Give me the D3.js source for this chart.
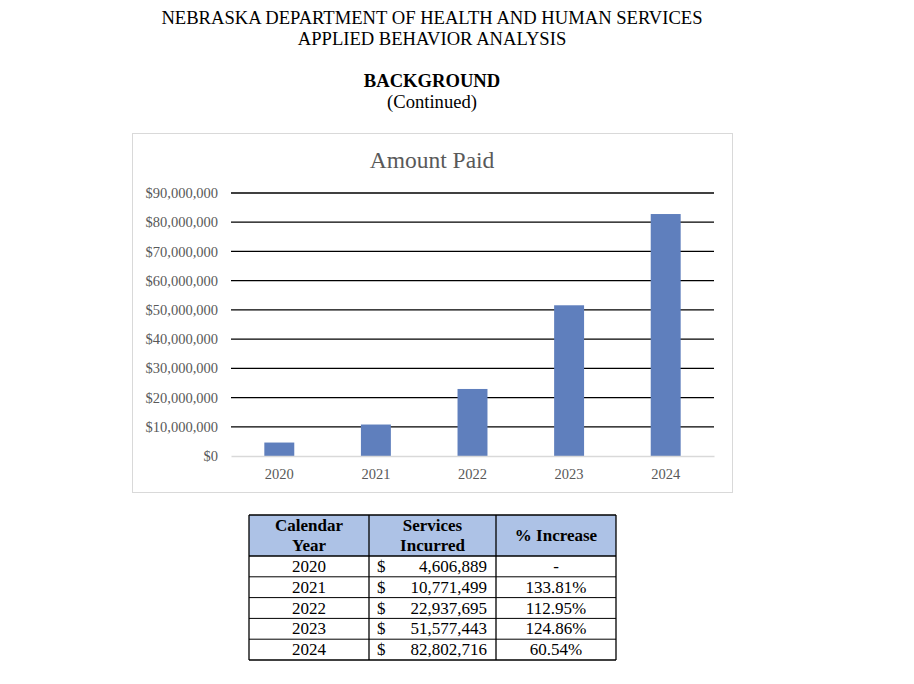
<!DOCTYPE html>
<html>
<head>
<meta charset="utf-8">
<script src="https://cdn.jsdelivr.net/npm/d3@7"></script>
<style>
  html, body { margin: 0; padding: 0; background: #fff; }
  svg { display: block; font-family: "Liberation Serif", "Times New Roman", serif; }
</style>
</head>
<body>
<div id="vis"></div>
<script>
// data
const YEARS = ["2020", "2021", "2022", "2023", "2024"];
const AMOUNTS = [4606889, 10771499, 22937695, 51577443, 82802716];
const PCT_INCREASE = ["-", "133.81%", "112.95%", "124.86%", "60.54%"];
const Y_TICKS = [0, 10000000, 20000000, 30000000, 40000000, 50000000, 60000000, 70000000, 80000000, 90000000];

const FRAME_WIDTH = 914;
const FRAME_HEIGHT = 684;

const SVG = d3.select("#vis")
  .append("svg")
    .attr("width", FRAME_WIDTH)
    .attr("height", FRAME_HEIGHT);

// page header
const HEADER = [
  {text: "NEBRASKA DEPARTMENT OF HEALTH AND HUMAN SERVICES", y: 24, bold: false},
  {text: "APPLIED BEHAVIOR ANALYSIS", y: 45, bold: false},
  {text: "BACKGROUND", y: 87, bold: true},
  {text: "(Continued)", y: 108, bold: false}
];
SVG.selectAll(".hdr")
  .data(HEADER)
  .enter()
  .append("text")
    .attr("x", 432)
    .attr("y", d => d.y)
    .attr("text-anchor", "middle")
    .attr("font-size", "18.6px")
    .attr("font-weight", d => d.bold ? "bold" : "normal")
    .attr("fill", "#000")
    .text(d => d.text);

// chart box
SVG.append("rect")
  .attr("x", 132.5).attr("y", 133.5)
  .attr("width", 600).attr("height", 359)
  .attr("fill", "#fff")
  .attr("stroke", "#d9d9d9");

SVG.append("text")
  .attr("x", 432).attr("y", 168)
  .attr("text-anchor", "middle")
  .attr("font-size", "23.5px")
  .attr("fill", "#595959")
  .text("Amount Paid");

const PLOT = {left: 231, right: 714, top: 193, bottom: 456};

const X_SCALE = d3.scaleBand()
  .domain(YEARS)
  .range([PLOT.left, PLOT.right])
  .paddingInner(0.69)
  .paddingOuter(0.345);

const Y_SCALE = d3.scaleLinear()
  .domain([0, 90000000])
  .range([PLOT.bottom, PLOT.top]);

// gridlines
SVG.selectAll(".grid")
  .data(Y_TICKS.slice(1))
  .enter()
  .append("line")
    .attr("x1", PLOT.left).attr("x2", PLOT.right)
    .attr("y1", d => Y_SCALE(d)).attr("y2", d => Y_SCALE(d))
    .attr("stroke", "#000")
    .attr("stroke-width", 1.3);

// bars
SVG.selectAll(".bar")
  .data(AMOUNTS)
  .enter()
  .append("rect")
    .attr("x", (d, i) => X_SCALE(YEARS[i]))
    .attr("y", d => Y_SCALE(d))
    .attr("width", X_SCALE.bandwidth())
    .attr("height", d => PLOT.bottom - Y_SCALE(d))
    .attr("fill", "#5f7fbd");

// y axis
const fmt = d3.format("$,");
const yAxis = SVG.append("g")
  .attr("transform", "translate(" + PLOT.left + ",0)")
  .call(d3.axisLeft(Y_SCALE).tickValues(Y_TICKS).tickFormat(fmt).tickSize(0).tickPadding(13));
yAxis.select(".domain").remove();
yAxis.selectAll("text")
  .attr("font-family", "Liberation Serif, serif")
  .attr("font-size", "14.5px")
  .attr("fill", "#595959");

// x axis
const xAxis = SVG.append("g")
  .attr("transform", "translate(0," + PLOT.bottom + ")")
  .call(d3.axisBottom(X_SCALE).tickSize(0).tickPadding(13));
xAxis.select(".domain").attr("stroke", "#d9d9d9").attr("stroke-width", 1.3);
xAxis.selectAll("text")
  .attr("font-family", "Liberation Serif, serif")
  .attr("font-size", "14.5px")
  .attr("fill", "#595959");

// table
const T = {left: 249, top: 515, headH: 41, rowH: 20.8};
const COLS = [249, 369, 496, 616];
const tableBottom = T.top + T.headH + T.rowH * YEARS.length;

SVG.append("rect")
  .attr("x", COLS[0]).attr("y", T.top)
  .attr("width", COLS[3] - COLS[0]).attr("height", T.headH)
  .attr("fill", "#adc2e6");

const HEAD_TEXT = [["Calendar", "Year"], ["Services", "Incurred"], ["% Increase"]];
HEAD_TEXT.forEach((lines, c) => {
  const cx = (COLS[c] + COLS[c + 1]) / 2;
  lines.forEach((t, k) => {
    SVG.append("text")
      .attr("x", cx)
      .attr("y", lines.length === 1 ? T.top + 26 : T.top + 16 + k * 20)
      .attr("text-anchor", "middle")
      .attr("font-size", "17px")
      .attr("font-weight", "bold")
      .text(t);
  });
});

const rows = SVG.selectAll(".row")
  .data(YEARS)
  .enter()
  .append("g")
    .attr("transform", (d, i) => "translate(0," + (T.top + T.headH + i * T.rowH) + ")");

rows.append("text")
  .attr("x", (COLS[0] + COLS[1]) / 2).attr("y", 16)
  .attr("text-anchor", "middle").attr("font-size", "17px")
  .text(d => d);
rows.append("text")
  .attr("x", COLS[1] + 8).attr("y", 16)
  .attr("font-size", "17px")
  .text("$");
rows.append("text")
  .attr("x", COLS[2] - 9).attr("y", 16)
  .attr("text-anchor", "end").attr("font-size", "17px")
  .text((d, i) => d3.format(",")(AMOUNTS[i]));
rows.append("text")
  .attr("x", (COLS[2] + COLS[3]) / 2).attr("y", 16)
  .attr("text-anchor", "middle").attr("font-size", "17px")
  .text((d, i) => PCT_INCREASE[i]);

// table lines
const hLines = [T.top, T.top + T.headH].concat(YEARS.map((d, i) => T.top + T.headH + (i + 1) * T.rowH));
SVG.selectAll(".hline")
  .data(hLines)
  .enter()
  .append("line")
    .attr("x1", COLS[0]).attr("x2", COLS[3])
    .attr("y1", d => d).attr("y2", d => d)
    .attr("stroke", "#000")
    .attr("stroke-width", (d, i) => (i < 2 || i === hLines.length - 1) ? 1.3 : 1);
SVG.selectAll(".vline")
  .data(COLS)
  .enter()
  .append("line")
    .attr("x1", d => d).attr("x2", d => d)
    .attr("y1", T.top).attr("y2", tableBottom)
    .attr("stroke", "#000")
    .attr("stroke-width", 1.3);
</script>
</body>
</html>
